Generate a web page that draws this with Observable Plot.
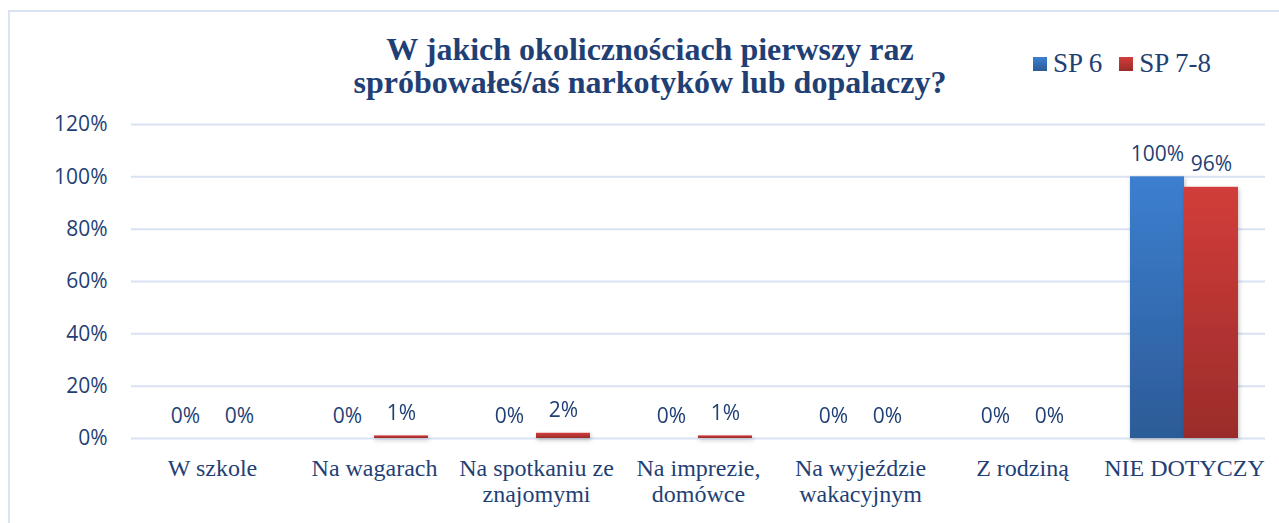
<!DOCTYPE html>
<html>
<head>
<meta charset="utf-8">
<script src="https://cdn.jsdelivr.net/npm/d3@7"></script>
<script src="https://cdn.jsdelivr.net/npm/@observablehq/plot@0.6"></script>
<style>
  html, body { margin: 0; padding: 0; background: #fff; }
  #wrap { position: relative; width: 1279px; height: 523px; overflow: hidden; }
  #frame { position: absolute; left: 8px; top: 10px; width: 1300px; height: 540px;
           border-left: 2px solid #DAE3F3; border-top: 2px solid #DAE3F3; box-sizing: border-box; }
  #header { position: relative; height: 110px; }
  #title { position: absolute; left: 0; width: 1300px; top: 33px; text-align: center;
           font-family: "Liberation Serif", "Times New Roman", serif; font-weight: bold;
           font-size: 32px; line-height: 33px; color: #1F3F75; }
  #legend { position: absolute; left: 1033px; top: 50px; white-space: nowrap;
            font-family: "Liberation Serif", "Times New Roman", serif; font-size: 27px;
            line-height: 26px; color: #1F3F75; }
  .sw { display: inline-block; width: 14px; height: 14px; margin-right: 6px; margin-bottom: 1px; vertical-align: baseline; }
  #chart { position: relative; }
  #chart svg { display: block; }
</style>
</head>
<body>
<div id="wrap">
  <div id="frame"></div>
  <div id="header">
    <div id="title">W jakich okolicznościach pierwszy raz<br>spróbowałeś/aś narkotyków lub dopalaczy?</div>
    <div id="legend"></div>
  </div>
  <div id="chart"></div>
</div>
<script>
// ---- data ----
const categories = ["W szkole", "Na wagarach", "Na spotkaniu ze znajomymi", "Na imprezie, domówce", "Na wyjeździe wakacyjnym", "Z rodziną", "NIE DOTYCZY"];
const categoryLabels = ["W szkole", "Na wagarach", "Na spotkaniu ze\nznajomymi", "Na imprezie,\ndomówce", "Na wyjeździe\nwakacyjnym", "Z rodziną", "NIE DOTYCZY"];
const series = ["SP 6", "SP 7-8"];
const sp6 = [0, 0, 0, 0, 0, 0, 1.00];
const sp78 = [0, 0.01, 0.02, 0.01, 0, 0, 0.96];
const yTicks = [0, 0.2, 0.4, 0.6, 0.8, 1.0, 1.2];

const seriesColors = {"SP 6": ["#3C7FD0", "#2C5B97"], "SP 7-8": ["#D23D3A", "#9A2C2A"]};
const gradIds = {"SP 6": "gBlue", "SP 7-8": "gRed"};

const data = [];
categories.forEach((c, i) => {
  data.push({cat: c, series: "SP 6", value: sp6[i]});
  data.push({cat: c, series: "SP 7-8", value: sp78[i]});
});
const labelOf = new Map(categories.map((c, i) => [c, categoryLabels[i]]));
const pct = v => Math.round(v * 100) + "%";
const textColor = "#1F3F75";

const svg = Plot.plot({
  width: 1279,
  height: 413,
  marginTop: 14,
  marginBottom: 85,
  marginLeft: 130,
  marginRight: 14,
  style: {fontFamily: "'Open Sans', sans-serif", fontSize: "21px", color: textColor, background: "transparent"},
  fx: {domain: categories, padding: 0, axis: null},
  x: {domain: series, paddingInner: 0, paddingOuter: 0.5, axis: null},
  y: {domain: [0, 1.2], axis: null},
  marks: [
    Plot.gridY(yTicks, {stroke: "#D9E2F3", strokeOpacity: 1, strokeWidth: 2}),
    Plot.axisY(yTicks, {tickSize: 0, tickPadding: 24, tickFormat: pct, label: null}),
    Plot.barY(data.filter(d => d.series === "SP 6"), {fx: "cat", x: "series", y: "value", fill: "url(#gBlue)"}),
    Plot.barY(data.filter(d => d.series === "SP 7-8"), {fx: "cat", x: "series", y: "value", fill: "url(#gRed)"}),
    Plot.text(data, {fx: "cat", x: "series", y: "value", text: d => pct(d.value), lineAnchor: "bottom", dy: -16, fill: textColor, fontSize: 21}),
    Plot.text(categories, {fx: d => d, text: d => labelOf.get(d), frameAnchor: "bottom", lineAnchor: "top", dy: 20, lineHeight: 1.05, fontFamily: "'Liberation Serif', serif", fontSize: 24, fill: textColor})
  ]
});

// gradients and shadow
const defs = d3.select(svg).insert("defs", ":first-child");
for (const s of series) {
  const g = defs.append("linearGradient").attr("id", gradIds[s]).attr("x1", 0).attr("y1", 0).attr("x2", 0).attr("y2", 1);
  g.append("stop").attr("offset", "0%").attr("stop-color", seriesColors[s][0]);
  g.append("stop").attr("offset", "100%").attr("stop-color", seriesColors[s][1]);
}
const f = defs.append("filter").attr("id", "shadow").attr("x", "-20%").attr("y", "-20%").attr("width", "140%").attr("height", "140%");
f.append("feDropShadow").attr("dx", 1).attr("dy", 2).attr("stdDeviation", 2).attr("flood-color", "#000").attr("flood-opacity", 0.25);
d3.select(svg).selectAll('g[aria-label="bar"]').attr("filter", "url(#shadow)");

document.getElementById("chart").appendChild(svg);

// legend
const legend = d3.select("#legend");
series.forEach((s, i) => {
  const item = legend.append("span").style("margin-right", i === 0 ? "17px" : "0");
  item.append("span").attr("class", "sw").style("background", `linear-gradient(${seriesColors[s][0]}, ${seriesColors[s][1]})`);
  item.append("span").text(s);
});
</script>
</body>
</html>
